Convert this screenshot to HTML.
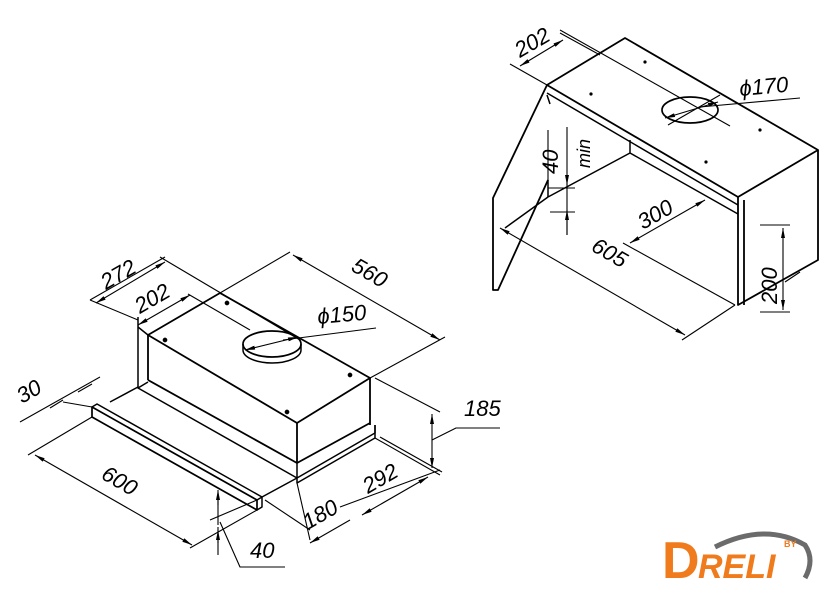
<!DOCTYPE html>
<html><head><meta charset="utf-8"><style>
html,body{margin:0;padding:0;background:#fff;}
svg{display:block}
text{font-family:"Liberation Sans","DejaVu Sans",sans-serif;font-style:italic;fill:#000;}
</style></head><body>
<svg width="840" height="590" viewBox="0 0 840 590" xmlns="http://www.w3.org/2000/svg">
<defs>
<marker id="a" viewBox="0 0 10 4" refX="10" refY="2" markerWidth="11" markerHeight="4" orient="auto-start-reverse" markerUnits="userSpaceOnUse"><path d="M0,0 L10,2 L0,4z" fill="#000"/></marker>
</defs>
<g stroke="#000" fill="none" stroke-width="1.5" stroke-linejoin="round">
<!-- LEFT HOOD -->
<path d="M148,335 L297,423 L370,378 L220,293 L148,335 Z" stroke-width="1.8"/>
<path d="M148,335 L148,380 M297,423 L297,463 M370,378 L370,425" stroke-width="1.8"/>
<path d="M148,380 L297,463 L370,423" stroke-width="1.8"/>
<path d="M138,317 L138,388 L148,382 M138,388 L297,478 L375,433 L375,425 M297,463 L297,478"/>
<path d="M138,327 L148,335"/>
<path d="M375,438 L297,483 L297,478 M375,425 L375,438"/>
<path d="M92,407 L257,500 L257,510 L92,417 Z" stroke-width="1.7"/>
<path d="M92,407 L97,404 L262,497 L257,500 M262,497 L262,507 L257,510"/>
<path d="M110,402 L138,387 M262,497 L297,478"/>
<ellipse cx="272" cy="344" rx="29" ry="13" stroke-width="1.7"/>
<path d="M243,344 L243,350 M301,344 L301,350" />
<path d="M243,350 A29,13 0 0 0 301,350"/>
<path d="M245,350 L298,337" marker-start="url(#a)" marker-end="url(#a)" stroke-width="1.1"/>
<path d="M283,340 L376,328" stroke-width="1.1"/>
<circle cx="227" cy="303" r="1.6" fill="#000"/><circle cx="165" cy="340" r="1.6" fill="#000"/>
<circle cx="350" cy="375" r="1.6" fill="#000"/><circle cx="287" cy="412" r="1.6" fill="#000"/>
<g stroke-width="1.1">
<path d="M90,300 L165,257"/>
<path d="M96,303 L165,262" marker-start="url(#a)" marker-end="url(#a)"/>
<path d="M160,257 L300,340 M138,320 L90,300"/>
<path d="M138,325 L190,295" marker-start="url(#a)" marker-end="url(#a)"/>
<path d="M188,294 L250,330"/>
<path d="M220,293 L290,252 M370,378 L445,337"/>
<path d="M293,255 L440,340" marker-start="url(#a)" marker-end="url(#a)"/>
<path d="M20,422 L100,377 M63,402 L92,407"/>
<path d="M50,408 L63,400 M78,392 L92,384"/>
<path d="M92,417 L28,455 M257,510 L190,548"/>
<path d="M35,455 L192,545" marker-start="url(#a)" marker-end="url(#a)"/>
<path d="M218,492 L218,525 M218,527 L218,555"/>
<path d="M218,490 L218,505" marker-start="url(#a)"/>
<path d="M218,530 L218,543" marker-start="url(#a)"/>
<path d="M220,522 L240,567 L285,567 M210,520 L257,500"/>
<path d="M297,483 L310,540 M375,438 L440,475"/>
<path d="M310,543 L350,520" marker-start="url(#a)"/>
<path d="M340,507 L440,470"/>
<path d="M362,515 L428,477" marker-start="url(#a)" marker-end="url(#a)"/>
<path d="M265,500 L310,530"/>
<path d="M375,378 L440,412 M380,437 L442,472"/>
<path d="M432,414 L432,468" marker-start="url(#a)" marker-end="url(#a)"/>
<path d="M432,440 L456,428 L500,428"/>
</g>
<!-- RIGHT CABINET -->
<path d="M547,85 L625,38 L818,150 L738,197 Z" stroke-width="1.8"/>
<path d="M738,197 L738,305 L818,260 L818,150 M744,200 L744,305" stroke-width="1.8"/>
<path d="M547,93 L738,205" stroke-width="1.5"/>
<path d="M548,197 L630,153 L630,140 M630,153 L738,214"/>
<path d="M547,85 L493,198 L493,290 L498,290 L548,180" stroke-width="1.8"/>
<path d="M547,95 L550,104 M548,180 L548,197"/>
<path d="M505,228 L548,197"/>
<ellipse cx="690" cy="110" rx="28" ry="13" stroke-width="1.7"/>
<g stroke-width="1.1">
<path d="M665,118 L718,102" marker-start="url(#a)" marker-end="url(#a)"/>
<path d="M700,107 L800,98 M668,125 L720,95 M560,30 L730,126"/>
<path d="M510,64 L547,85 M560,33 L600,55"/>
<path d="M520,66 L563,40" marker-start="url(#a)" marker-end="url(#a)"/>
<path d="M548,130 L548,180 M567,180 L567,235"/>
<path d="M567,127 L567,185" marker-end="url(#a)"/>
<path d="M567,235 L567,210" marker-end="url(#a)"/>
<path d="M548,188 L575,188 M550,212 L575,212"/>
<path d="M500,228 L685,335" marker-start="url(#a)" marker-end="url(#a)"/>
<path d="M735,305 L682,340"/>
<path d="M623,243 L735,305"/>
<path d="M630,243 L705,200" marker-start="url(#a)" marker-end="url(#a)"/>
<path d="M760,225 L790,225 M760,312 L790,312"/>
<path d="M783,228 L783,310" marker-start="url(#a)" marker-end="url(#a)"/>
<path d="M785,282 L800,272"/>
</g>
</g>
<circle cx="645" cy="62" r="1.6"/><circle cx="591" cy="94" r="1.6"/>
<circle cx="760" cy="130" r="1.6"/><circle cx="706" cy="162" r="1.6"/>
<g font-size="22">
<text transform="translate(106,290) rotate(-30)">272</text>
<text transform="translate(140,314) rotate(-30)">202</text>
<text transform="translate(350,270) rotate(30)">560</text>
<text transform="translate(318,324) rotate(-5)">ϕ150</text>
<text transform="translate(22,404) rotate(-30)">30</text>
<text transform="translate(100,478) rotate(30)">600</text>
<text x="250" y="558">40</text>
<text transform="translate(308,530) rotate(-30)">180</text>
<text transform="translate(368,494) rotate(-30)">292</text>
<text x="464" y="416">185</text>
<text transform="translate(520,58) rotate(-30)">202</text>
<text transform="translate(740,96) rotate(-5)">ϕ170</text>
<text transform="translate(558,174) rotate(-90)">40</text>
<text transform="translate(590,168) rotate(-90)" font-size="18">min</text>
<text transform="translate(643,230) rotate(-30)">300</text>
<text transform="translate(590,250) rotate(30)">605</text>
<text transform="translate(777,304) rotate(-90)">200</text>
</g>
<path d="M715,547 Q765,522 805,545 Q815,560 805,578" stroke="#6b6b6b" stroke-width="5" fill="none"/>
<text x="662" y="578" font-weight="bold" font-size="52" style="fill:#f07b1c;font-style:normal">D</text>
<text x="698" y="578" font-weight="bold" font-size="34" style="fill:#f07b1c;font-style:italic">RELI</text>
<text x="784" y="547" font-weight="bold" font-size="9" style="fill:#f07b1c;font-style:normal">BY</text>
</svg>
</body></html>
